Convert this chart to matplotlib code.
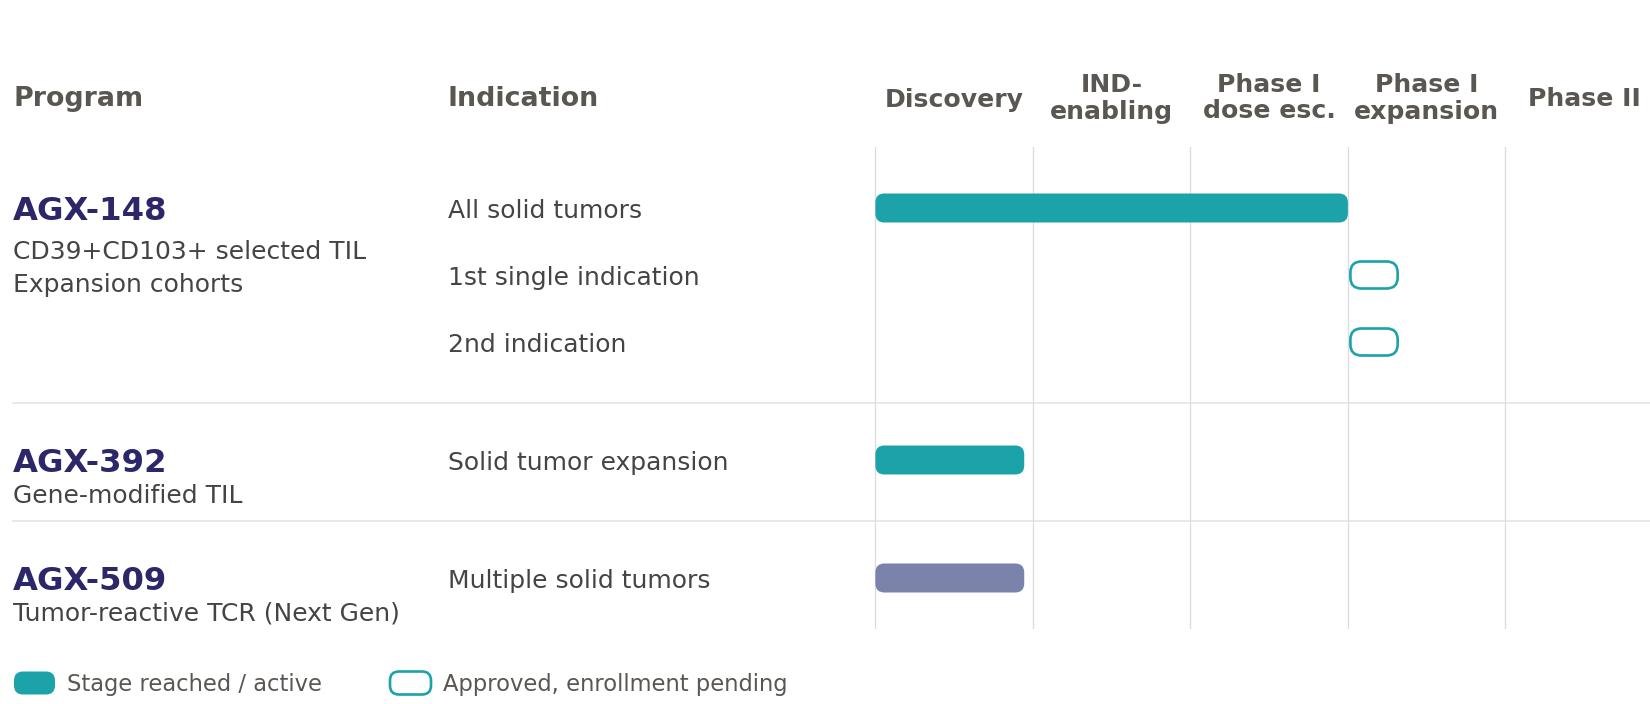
import matplotlib
matplotlib.use("Agg")
import matplotlib.pyplot as plt
from matplotlib.patches import FancyBboxPatch

plt.rcParams["font.family"] = ["DejaVu Sans"]

# ── Data ──────────────────────────────────────────────────────────────────────
stages = ["Discovery", "IND-\nenabling", "Phase I\ndose esc.", "Phase I\nexpansion", "Phase II"]

programs = ["AGX-148", "AGX-392", "AGX-509"]
program_notes = [
    ["CD39+CD103+ selected TIL", "Expansion cohorts"],
    ["Gene-modified TIL"],
    ["Tumor-reactive TCR (Next Gen)"],
]

indications = [
    "All solid tumors",
    "1st single indication",
    "2nd indication",
    "Solid tumor expansion",
    "Multiple solid tumors",
]
indication_program = [0, 0, 0, 1, 2]
bar_start = [0.0, 3.0, 3.0, 0.0, 0.0]
bar_length = [3.0, 0.3, 0.3, 0.945, 0.945]
bar_status = ["active", "pending", "pending", "active", "next_gen"]

legend_labels = ["Stage reached / active", "Approved, enrollment pending"]
legend_status = ["active", "pending"]

# ── Styles ────────────────────────────────────────────────────────────────────
TEAL = "#1ba3a9"
NEXT = "#7c83aa"
NAVY = "#2b2768"
HEAD = "#5a5652"
BODY = "#444444"
GRID = "#dcdcdc"
FILL = {"active": TEAL, "pending": "white", "next_gen": NEXT}
EDGE = {"active": TEAL, "pending": TEAL, "next_gen": NEXT}

W, H = 1650, 704
X0, COL_W = 875.4, 157.5          # pixel position of stage 0, width of one stage
ROW0, PITCH, GROUP_GAP = 208, 67, 118
BAR_H, PILL_H = 29, 27
NOTE_OFFSET = [51, 43, 42]         # baseline of first note line below program row

# row centres (pixels from top)
row_y = []
y = ROW0
for i, p in enumerate(indication_program):
    if i > 0:
        y += PITCH if p == indication_program[i - 1] else GROUP_GAP
    row_y.append(y)

fig = plt.figure(figsize=(W / 100, H / 100), dpi=100)
fig.patch.set_facecolor("white")

# layout axes in pixels (text, legend)
lay = fig.add_axes([0, 0, 1, 1])
lay.set_xlim(0, W)
lay.set_ylim(H, 0)
lay.axis("off")

# chart axes: x in stage units, y in pixels
ax = fig.add_axes([0, 0, 1, 1])
ax.set_xlim(-X0 / COL_W, (W - X0) / COL_W)
ax.set_ylim(H, 0)
ax.axis("off")
ax.patch.set_alpha(0)

# ── Headers ───────────────────────────────────────────────────────────────────
lay.text(13, 106.5, "Program", fontsize=19.4, fontweight="bold", color=HEAD, va="baseline")
lay.text(448, 106.5, "Indication", fontsize=19.4, fontweight="bold", color=HEAD, va="baseline")
for i, label in enumerate(stages):
    lines = label.split("\n")
    base = [106.5] if len(lines) == 1 else [91.5, 118.5]
    for txt, b in zip(lines, base):
        ax.text(i + 0.5, b, txt, fontsize=18.1, fontweight="bold", color=HEAD,
                ha="center", va="baseline")

# ── Grid ──────────────────────────────────────────────────────────────────────
for i in range(len(stages) + 1):
    ax.plot([i, i], [147, 628], color=GRID, lw=0.9, zorder=1)

seps = [(row_y[i - 1] + row_y[i]) / 2 + 1.5 for i in range(1, len(row_y))
        if indication_program[i] != indication_program[i - 1]]
for s in seps:
    lay.plot([13, W], [s, s], color="#e2e2e2", lw=1.1, zorder=1)

# ── Program labels ────────────────────────────────────────────────────────────
for p, name in enumerate(programs):
    yc = row_y[indication_program.index(p)]
    lay.text(13, yc + 11.6, name, fontsize=23.2, fontweight="bold", color=NAVY, va="baseline")
    for k, note in enumerate(program_notes[p]):
        lay.text(13, yc + NOTE_OFFSET[p] + k * 33.4, note, fontsize=18.0,
                 color=BODY, va="baseline")

# ── Indications and bars ──────────────────────────────────────────────────────
for i, ind in enumerate(indications):
    yc = row_y[i]
    lay.text(448, yc + 10.3, ind, fontsize=18.0, color=BODY, va="baseline")
    st = bar_status[i]
    if st == "pending":
        h, r, lw = PILL_H, 11 / COL_W, 1.9
        x = bar_start[i] + 2.5 / COL_W
        w = bar_length[i]
    else:
        h, r, lw = BAR_H, 9 / COL_W, 0
        x = bar_start[i]
        w = bar_length[i]
    box = FancyBboxPatch((x, yc - h / 2), w, h,
                         boxstyle=f"round,pad=0,rounding_size={r}",
                         mutation_aspect=COL_W,
                         facecolor=FILL[st], edgecolor=EDGE[st], linewidth=lw, zorder=3)
    ax.add_patch(box)

# ── Legend ────────────────────────────────────────────────────────────────────
leg_x = [14, 390]
leg_y = 683
for lx, lab, st in zip(leg_x, legend_labels, legend_status):
    lw = 1.9 if st == "pending" else 0
    box = FancyBboxPatch((lx, leg_y - 11.5), 41, 23,
                         boxstyle="round,pad=0,rounding_size=9",
                         facecolor=FILL[st], edgecolor=EDGE[st], linewidth=lw, zorder=3)
    lay.add_patch(box)
    lay.text(lx + 53, leg_y + 7.5, lab, fontsize=16.3, color=HEAD, va="baseline")

fig.savefig("out.png", dpi=100, facecolor="white")
